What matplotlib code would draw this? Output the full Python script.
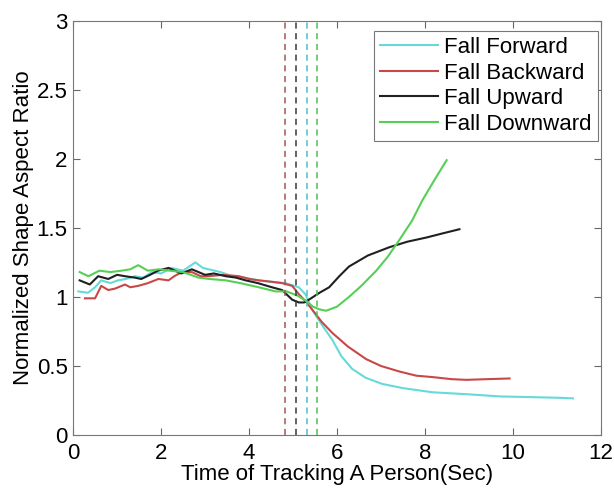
import matplotlib
matplotlib.use('Agg')
import matplotlib.pyplot as plt
from matplotlib.ticker import FuncFormatter

# --- data ---
fwd_t = [0.12, 0.34, 0.5, 0.64, 0.85, 1.02, 1.2, 1.41, 1.6, 1.79, 2.0, 2.24, 2.5, 2.78, 2.95, 3.08,
         3.35, 3.62, 3.9, 4.22, 4.5, 4.83, 5.13, 5.28, 5.43, 5.65, 5.89, 6.1, 6.34, 6.65, 7.03,
         7.5, 8.17, 9.0, 9.7, 10.4, 11.07, 11.36]
fwd_v = [1.04, 1.03, 1.07, 1.12, 1.10, 1.12, 1.13, 1.15, 1.14, 1.18, 1.17, 1.21, 1.19, 1.25, 1.21, 1.20,
         1.18, 1.15, 1.14, 1.12, 1.11, 1.10, 1.07, 1.02, 0.91, 0.80, 0.69, 0.57, 0.48, 0.415, 0.37,
         0.34, 0.31, 0.295, 0.28, 0.275, 0.27, 0.266]

bwd_t = [0.27, 0.5, 0.64, 0.8, 0.95, 1.18, 1.3, 1.48, 1.7, 1.94, 2.17, 2.3, 2.47, 2.7, 2.9, 3.08,
         3.4, 3.77, 4.0, 4.22, 4.5, 4.75, 4.98, 5.13, 5.28, 5.43, 5.65, 5.89, 6.25, 6.66, 7.0,
         7.42, 7.8, 8.17, 8.6, 8.94, 9.4, 9.92]
bwd_v = [0.99, 0.99, 1.08, 1.05, 1.06, 1.09, 1.07, 1.08, 1.10, 1.13, 1.12, 1.15, 1.18, 1.18, 1.15, 1.15,
         1.16, 1.15, 1.13, 1.12, 1.11, 1.10, 1.08, 1.02, 0.97, 0.91, 0.82, 0.74, 0.64, 0.55, 0.50,
         0.46, 0.43, 0.42, 0.405, 0.40, 0.405, 0.41]

up_t = [0.15, 0.38, 0.57, 0.8, 1.0, 1.18, 1.4, 1.55, 1.75, 1.93, 2.17, 2.46, 2.7, 3.0, 3.2, 3.47,
        3.7, 3.92, 4.2, 4.52, 4.75, 4.98, 5.13, 5.25, 5.36, 5.6, 5.82, 6.05, 6.27, 6.7, 7.19,
        7.6, 8.03, 8.4, 8.78]
up_v = [1.12, 1.09, 1.15, 1.13, 1.16, 1.15, 1.14, 1.13, 1.16, 1.19, 1.21, 1.17, 1.20, 1.16, 1.17, 1.15,
        1.14, 1.12, 1.10, 1.07, 1.05, 0.98, 0.96, 0.96, 0.98, 1.03, 1.07, 1.15, 1.22, 1.30, 1.36,
        1.40, 1.43, 1.46, 1.49]

down_t = [0.15, 0.35, 0.6, 0.85, 1.1, 1.3, 1.48, 1.7, 1.95, 2.2, 2.5, 2.85, 3.1, 3.47, 3.8, 4.22,
          4.6, 4.85, 5.1, 5.3, 5.45, 5.6, 5.75, 6.0, 6.27, 6.55, 6.89, 7.15, 7.41, 7.7, 7.94,
          8.2, 8.49]
down_v = [1.18, 1.15, 1.19, 1.18, 1.19, 1.20, 1.23, 1.19, 1.20, 1.19, 1.18, 1.14, 1.13, 1.12, 1.10, 1.07,
          1.04, 1.04, 1.01, 0.97, 0.93, 0.91, 0.90, 0.93, 1.00, 1.08, 1.19, 1.29, 1.41, 1.55, 1.70,
          1.84, 1.99]

onsets = [4.81, 5.07, 5.32, 5.54]

labels = ['Fall Forward', 'Fall Backward', 'Fall Upward', 'Fall Downward']
colors = ['#66dada', '#c84848', '#202020', '#55d055']
onset_colors = ['#a05858', '#383838', '#50c0c0', '#50c050']

plt.rcParams['font.family'] = ['Liberation Sans', 'DejaVu Sans']
FS = 16

fig = plt.figure(figsize=(6.14, 4.9), dpi=100)
ax = fig.add_axes([0.119, 0.112, 0.860, 0.846])

series = [(fwd_t, fwd_v), (bwd_t, bwd_v), (up_t, up_v), (down_t, down_v)]
for (t, v), c, lab in zip(series, colors, labels):
    ax.plot(t, v, color=c, lw=1.5, label=lab)

for x, c in zip(onsets, onset_colors):
    ax.axvline(x, color=c, lw=1.1, ls=(0, (4, 3)))

ax.set_xlim(0, 12)
ax.set_ylim(0, 3)
ax.set_xticks(range(0, 13, 2))
ax.set_yticks([0, 0.5, 1, 1.5, 2, 2.5, 3])
ax.yaxis.set_major_formatter(FuncFormatter(lambda v, p: f'{v:g}'))
ax.tick_params(direction='in', top=True, right=True, labelsize=FS, length=5, color='#666666')
ax.tick_params(axis='x', pad=6)
ax.tick_params(axis='y', pad=4)
for s in ax.spines.values():
    s.set_color('#777777')

ax.set_xlabel('Time of Tracking A Person(Sec)', fontsize=FS, labelpad=0)
ax.set_ylabel('Normalized Shape Aspect Ratio', fontsize=FS, labelpad=2)

leg = ax.legend(loc='upper right', bbox_to_anchor=(0.994, 0.976), borderaxespad=0,
                fontsize=FS, fancybox=False, framealpha=1, edgecolor='#777777',
                handlelength=2.6, handletextpad=0.25, labelspacing=0.2, borderpad=0.3)
leg.get_frame().set_linewidth(0.8)

fig.savefig('out.png', dpi=100)
